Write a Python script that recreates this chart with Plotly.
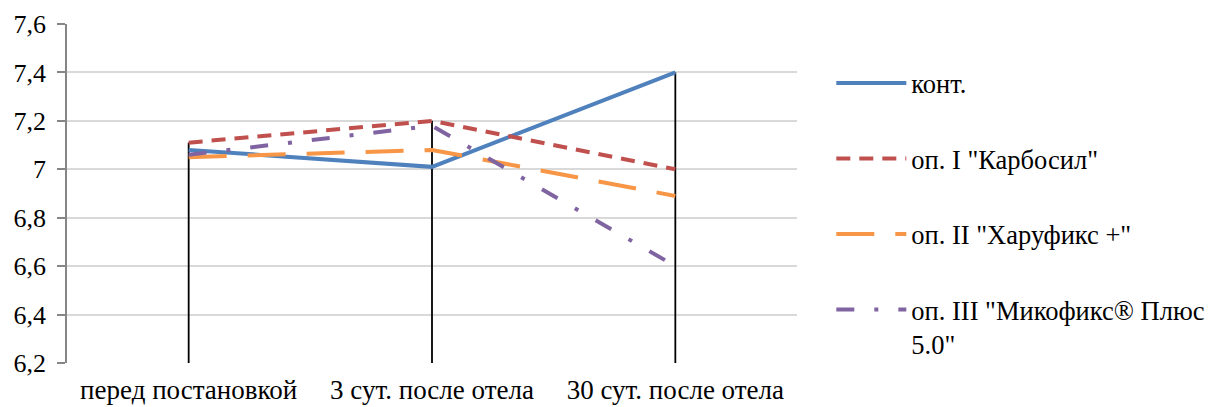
import plotly.graph_objects as go

# Sampling periods (x categories)
periods = ["перед постановкой", "3 сут. после отела", "30 сут. после отела"]

# Series values by group
kont = [7.08, 7.01, 7.40]
karbosil = [7.11, 7.20, 7.00]
harufiks = [7.05, 7.08, 6.89]
mikofiks = [7.06, 7.18, 6.60]

series_names = ["конт.", "оп. I \"Карбосил\"", "оп. II \"Харуфикс +\"",
                "оп. III \"Микофикс® Плюс<br>5.0\""]

# Y axis tick labels (decimal comma)
y_ticks = [6.2, 6.4, 6.6, 6.8, 7.0, 7.2, 7.4, 7.6]
y_tick_text = ["6,2", "6,4", "6,6", "6,8", "7", "7,2", "7,4", "7,6"]

Y_MIN, Y_MAX = 6.2, 7.6
FONT = "Liberation Serif"

all_series = [kont, karbosil, harufiks, mikofiks]
styles = [
    dict(color="#4f81bd", dash="solid"),
    dict(color="#c0504d", dash="14px,9px"),
    dict(color="#f79646", dash="38px,21px"),
    dict(color="#8064a2", dash="18px,20px,4px,20px"),
]

fig = go.Figure()

# Drop lines: from the highest series value at each period down to the axis
drop_x, drop_y = [], []
for i, p in enumerate(periods):
    top = max(s[i] for s in all_series)
    drop_x += [p, p, None]
    drop_y += [top, Y_MIN, None]
fig.add_trace(go.Scatter(x=drop_x, y=drop_y, mode="lines",
                         line=dict(color="black", width=1.8),
                         showlegend=False, hoverinfo="skip"))

for i, (name, vals, st) in enumerate(zip(series_names, all_series, styles)):
    fig.add_trace(go.Scatter(
        x=periods, y=vals, mode="lines", name=name,
        line=dict(color=st["color"], width=4, dash=st["dash"]),
        legendgroup=f"g{i}",
    ))

fig.update_layout(
    width=1214, height=407,
    margin=dict(l=67, r=417, t=24, b=44, autoexpand=False),
    paper_bgcolor="white", plot_bgcolor="white",
    font=dict(family=FONT, size=26, color="black"),
    legend=dict(
        x=1.047, y=0.8956, xanchor="left", yanchor="top",
        font=dict(family=FONT, size=26.5, color="black"),
        itemwidth=70, tracegroupgap=38, valign="top",
        bgcolor="rgba(0,0,0,0)",
    ),
    xaxis=dict(
        type="category", range=[-0.5, 2.5], automargin=False,
        showgrid=False, showline=False, zeroline=False, ticks="",
        ticklabelstandoff=8,
        tickfont=dict(family=FONT, size=27, color="black"),
    ),
    yaxis=dict(
        range=[Y_MIN, Y_MAX], tickvals=y_ticks, ticktext=y_tick_text,
        automargin=False,
        showgrid=True, gridcolor="#d9d9d9", gridwidth=1.5,
        showline=True, linecolor="#868686", linewidth=1.5,
        ticks="outside", ticklen=8, tickcolor="#868686", tickwidth=1.5,
        zeroline=False, ticklabelstandoff=6,
        tickfont=dict(family=FONT, size=26, color="black"),
    ),
)

fig.write_html("out.html")
